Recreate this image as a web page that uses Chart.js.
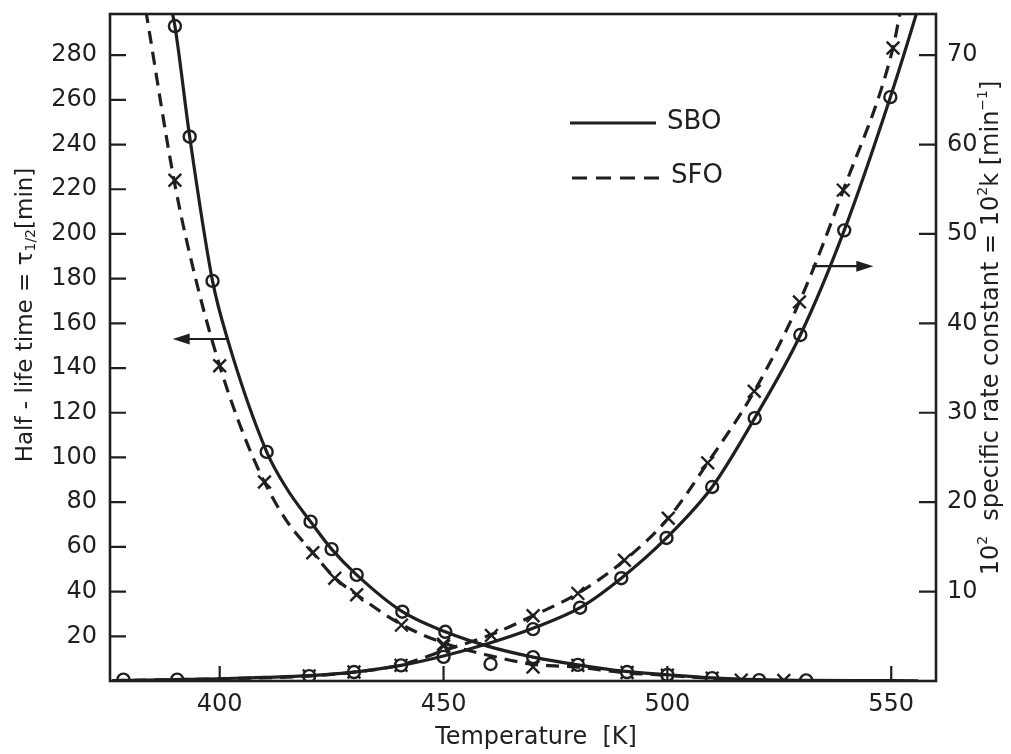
<!DOCTYPE html>
<html>
<head>
<meta charset="utf-8">
<script src="https://cdn.jsdelivr.net/npm/chart.js@4.4.1/dist/chart.umd.min.js"></script>
<style>
  html, body { margin: 0; background: #fff; }
</style>
</head>
<body>
<canvas id="chart" width="1011" height="754"></canvas>
<script>
"use strict";

// Axis ticks
const tempTicks = [400, 450, 500, 550];
const halfLifeTicks = [20, 40, 60, 80, 100, 120, 140, 160, 180, 200, 220, 240, 260, 280];
const rateTicks = [10, 20, 30, 40, 50, 60, 70];

// Half-life, SBO (solid) - fitted curve and measured points
const sboHalfCurveT = [389.3, 390, 393.3, 398.4, 401.8, 410.5, 415, 420.3, 425, 430.6, 440.8, 450.4, 460, 470, 480, 490, 500, 510, 520, 530, 545, 556];
const sboHalfCurveV = [300, 293, 243.5, 179, 152.6, 102.5, 86, 71.3, 59, 47.5, 31, 22, 15.5, 10.7, 7.2, 4.4, 2.8, 1.4, 0.6, 0.3, 0.15, 0.1];
const sboHalfPointT = [390, 393.3, 398.4, 410.5, 420.3, 425, 430.6, 440.8, 450.4, 460.5, 470, 480, 491, 500, 510, 520.5, 531];
const sboHalfPointV = [293, 243.5, 179, 102.5, 71.3, 59, 47.5, 31, 22, 7.6, 10.7, 7.2, 4, 2.7, 1.3, 0.4, 0.3];

// Half-life, SFO (dashed)
const sfoHalfCurveT = [383.5, 390, 395, 400, 405, 410, 415, 420.8, 425.7, 430.6, 440.6, 450, 460, 470, 480, 490, 500, 510, 516.5, 526, 535];
const sfoHalfCurveV = [300, 222, 177, 141, 112, 89, 71.5, 57.4, 46.2, 38.6, 25.3, 17, 11.5, 7.5, 6.2, 3.8, 2.5, 1.2, 0.5, 0.2, 0.1];
const sfoHalfPointT = [390, 400, 410, 420.8, 425.7, 430.6, 440.6, 450, 470, 480, 491, 500, 510, 516.5, 526];
const sfoHalfPointV = [224, 141, 89, 57.4, 46, 38.6, 25, 16.5, 6.3, 7.0, 3.8, 2.6, 1.3, 0.4, 0.2];

// Rate constant 10^2 k, SBO (solid)
const sboRateCurveT = [376, 390, 400, 410, 420, 430, 440.5, 450, 460, 470, 480.5, 489.7, 499.8, 510, 519.5, 529.7, 539.5, 549.8, 555.6, 557];
const sboRateCurveV = [0.05, 0.15, 0.25, 0.4, 0.6, 1.0, 1.75, 2.8, 4.2, 5.9, 8.2, 11.5, 16, 21.7, 29.4, 38.7, 50.4, 65.3, 74.6, 77];
const sboRatePointT = [378.5, 390.5, 420, 430, 440.5, 450, 470, 480.5, 489.7, 499.8, 510, 519.5, 529.7, 539.5, 549.8];
const sboRatePointV = [0.15, 0.15, 0.55, 1.0, 1.75, 2.7, 5.8, 8.2, 11.5, 16, 21.7, 29.4, 38.7, 50.4, 65.3];

// Rate constant 10^2 k, SFO (dashed)
const sfoRateCurveT = [376, 400, 420, 430, 440.5, 450, 460.7, 470, 480, 490.4, 500.2, 509, 519.4, 529.5, 539.3, 550.4, 552, 553];
const sfoRateCurveV = [0.05, 0.25, 0.55, 1.0, 1.8, 3.4, 5.2, 7.3, 9.8, 13.5, 18.2, 24.4, 32.4, 42.4, 54.9, 70.8, 74.8, 77];
const sfoRatePointT = [420, 430, 440.5, 450, 460.7, 470, 480, 490.4, 500.2, 509, 519.4, 529.5, 539.3, 550.4];
const sfoRatePointV = [0.55, 1.0, 1.75, 3.9, 5.1, 7.3, 9.8, 13.5, 18.2, 24.4, 32.4, 42.4, 54.9, 70.8];

const INK = "#1f1f1f";
const TICK_FONT = { family: "DejaVu Sans", size: 24 };

function pairs(xs, ys) {
  return xs.map((x, i) => ({ x: x, y: ys[i] }));
}

function curve(xs, ys, axis, dashed) {
  return {
    data: pairs(xs, ys),
    yAxisID: axis,
    showLine: true,
    borderColor: INK,
    borderWidth: 3.2,
    borderDash: dashed ? [13, 8] : [],
    pointRadius: 0,
    cubicInterpolationMode: "monotone",
  };
}

function markers(xs, ys, axis, style) {
  return {
    data: pairs(xs, ys),
    yAxisID: axis,
    showLine: false,
    pointStyle: style,
    pointRadius: style === "circle" ? 6 : 9,
    pointBorderWidth: 2.4,
    pointBorderColor: INK,
    pointBackgroundColor: "#fff",
  };
}

function fixedTicks(values) {
  return (scale) => {
    scale.ticks = values.map((v) => ({ value: v }));
  };
}

// fixed size for an axis box, without the extra room chart.js keeps for labels
function fixedSize(key, size) {
  return (scale) => {
    scale[key] = size;
    scale.paddingTop = 0;
    scale.paddingBottom = 0;
    scale.paddingLeft = 0;
    scale.paddingRight = 0;
  };
}

// draws a line of text made of parts, some raised or lowered
function drawRich(ctx, parts, cx, cy, angle, size) {
  ctx.save();
  ctx.translate(cx, cy);
  ctx.rotate(angle);
  ctx.fillStyle = INK;
  ctx.textBaseline = "middle";
  let total = 0;
  parts.forEach((p) => {
    ctx.font = Math.round(size * (p.s || 1)) + "px 'DejaVu Sans'";
    p.w = ctx.measureText(p.t).width;
    total += p.w;
  });
  let x = -total / 2;
  parts.forEach((p) => {
    ctx.font = Math.round(size * (p.s || 1)) + "px 'DejaVu Sans'";
    ctx.fillText(p.t, x, (p.dy || 0) * size);
    x += p.w;
  });
  ctx.restore();
}

function arrow(ctx, x1, x2, y) {
  const dir = Math.sign(x2 - x1);
  ctx.beginPath();
  ctx.moveTo(x1, y);
  ctx.lineTo(x2 - dir * 12, y);
  ctx.stroke();
  ctx.beginPath();
  ctx.moveTo(x2, y);
  ctx.lineTo(x2 - dir * 17, y - 5.5);
  ctx.lineTo(x2 - dir * 17, y + 5.5);
  ctx.closePath();
  ctx.fill();
}

const decorations = {
  id: "decorations",
  afterDraw(chart) {
    const ctx = chart.ctx;
    const a = chart.chartArea;
    const sx = chart.scales.x;
    const sy = chart.scales.y;
    const sk = chart.scales.y1;

    ctx.save();
    ctx.strokeStyle = INK;
    ctx.fillStyle = INK;
    ctx.lineWidth = 2.6;
    ctx.strokeRect(a.left, a.top, a.right - a.left, a.bottom - a.top);

    // inward tick marks
    ctx.lineWidth = 2.2;
    ctx.beginPath();
    halfLifeTicks.forEach((v) => {
      const y = sy.getPixelForValue(v);
      ctx.moveTo(a.left, y);
      ctx.lineTo(a.left + 16, y);
    });
    rateTicks.forEach((v) => {
      const y = sk.getPixelForValue(v);
      ctx.moveTo(a.right, y);
      ctx.lineTo(a.right - 17, y);
    });
    tempTicks.forEach((v) => {
      const x = sx.getPixelForValue(v);
      ctx.moveTo(x, a.bottom);
      ctx.lineTo(x, a.bottom - 15);
    });
    ctx.stroke();

    // arrows telling which axis belongs to which curves
    arrow(ctx, sx.getPixelForValue(401.8), sx.getPixelForValue(389.5), sy.getPixelForValue(153));
    arrow(ctx, sx.getPixelForValue(532.4), sx.getPixelForValue(546), sk.getPixelForValue(46.4));

    // legend
    ctx.lineWidth = 3.2;
    ctx.beginPath();
    ctx.moveTo(570, 123);
    ctx.lineTo(656, 123);
    ctx.stroke();
    ctx.setLineDash([15, 9]);
    ctx.beginPath();
    ctx.moveTo(572, 178);
    ctx.lineTo(662, 178);
    ctx.stroke();
    ctx.setLineDash([]);
    ctx.font = "26px 'DejaVu Sans'";
    ctx.textBaseline = "middle";
    ctx.fillText("SBO", 667, 122);
    ctx.fillText("SFO", 671, 176);
    ctx.restore();

    // axis titles
    drawRich(ctx, [{ t: "Temperature  [K]" }], 536, 738, 0, 24);
    drawRich(ctx, [
      { t: "Half - life time = τ" },
      { t: "1/2", s: 0.6, dy: 0.25 },
      { t: "[min]" },
    ], 26, 315, -Math.PI / 2, 23);
    drawRich(ctx, [
      { t: "10" },
      { t: "2", s: 0.6, dy: -0.35 },
      { t: "  specific rate constant = 10" },
      { t: "2", s: 0.6, dy: -0.35 },
      { t: "k [min" },
      { t: "−1", s: 0.6, dy: -0.35 },
      { t: "]" },
    ], 992, 328, -Math.PI / 2, 24);
  },
};

new Chart(document.querySelector("#chart"), {
  type: "scatter",
  data: {
    datasets: [
      curve(sboHalfCurveT, sboHalfCurveV, "y", false),
      curve(sfoHalfCurveT, sfoHalfCurveV, "y", true),
      curve(sboRateCurveT, sboRateCurveV, "y1", false),
      curve(sfoRateCurveT, sfoRateCurveV, "y1", true),
      markers(sboHalfPointT, sboHalfPointV, "y", "circle"),
      markers(sfoHalfPointT, sfoHalfPointV, "y", "crossRot"),
      markers(sboRatePointT, sboRatePointV, "y1", "circle"),
      markers(sfoRatePointT, sfoRatePointV, "y1", "crossRot"),
    ],
  },
  options: {
    responsive: false,
    animation: false,
    layout: { padding: { top: 14, left: 0, right: 0, bottom: 0 } },
    plugins: { legend: { display: false }, tooltip: { enabled: false } },
    scales: {
      x: {
        type: "linear",
        min: 375.5,
        max: 560,
        grid: { display: false },
        border: { display: false },
        ticks: { font: TICK_FONT, color: INK, padding: 1 },
        afterBuildTicks: fixedTicks(tempTicks),
        afterFit: fixedSize("height", 73),
      },
      y: {
        position: "left",
        min: 0,
        max: 298.4,
        grid: { display: false },
        border: { display: false },
        ticks: { font: TICK_FONT, color: INK, padding: 5 },
        afterBuildTicks: fixedTicks(halfLifeTicks),
        afterFit: fixedSize("width", 110),
      },
      y1: {
        position: "right",
        min: 0,
        max: 74.6,
        grid: { display: false },
        border: { display: false },
        ticks: { font: TICK_FONT, color: INK, padding: 3 },
        afterBuildTicks: fixedTicks(rateTicks),
        afterFit: fixedSize("width", 75),
      },
    },
  },
  plugins: [decorations],
});
</script>
</body>
</html>
